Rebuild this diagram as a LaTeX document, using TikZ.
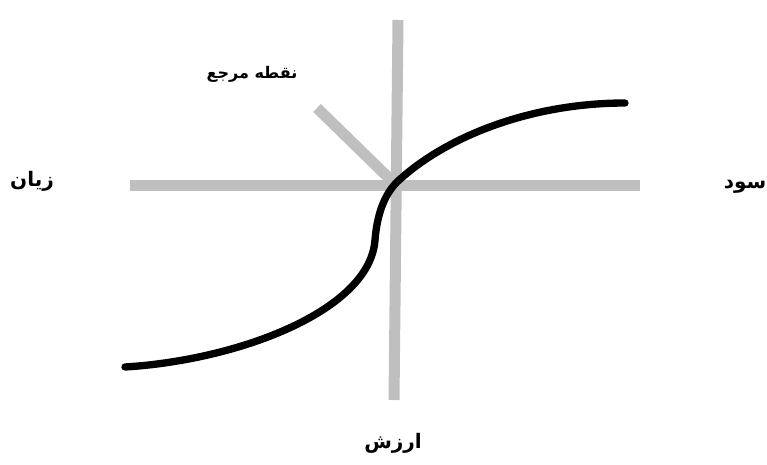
\documentclass[tikz,border=0pt]{standalone}
\usepackage{fontspec}
\newfontfamily\arabicfont[Script=Arabic]{DejaVu Sans}
\TeXXeTstate=1
\definecolor{axisgray}{HTML}{BFBFBF}
\tikzset{
  axisline/.style={draw=axisgray, line width=8.25pt},
  curveline/.style={draw=black, line width=5.5pt, line cap=round},
  biglabel/.style={font=\arabicfont\bfseries\fontsize{15}{17}\selectfont, inner sep=0pt},
  smalllabel/.style={font=\arabicfont\bfseries\fontsize{12}{14}\selectfont, inner sep=0pt}
}
\begin{document}
\begin{tikzpicture}[x=0.75pt,y=-0.75pt]
\useasboundingbox (0,0) rectangle (767,464);
% axes
\coordinate (vtop) at (398,20);
\coordinate (vbot) at (394,400);
\coordinate (hl) at (130,185);
\coordinate (hr) at (640,185);
\coordinate (dtop) at (317,108);
\coordinate (dbot) at (394,183);
\draw[axisline] (vtop) -- (vbot);
\draw[axisline] (hl) -- (hr);
\draw[axisline] (dtop) -- (dbot);
% value curve
\coordinate (cs) at (125,367);
\coordinate (cm) at (375,240);
\coordinate (co) at (397,182);
\coordinate (ce) at (625,103);
\draw[curveline] (cs) .. controls (240,360) and (370,310) .. (cm)
  .. controls (377,215) and (384,195) .. (co)
  .. controls (445,137) and (530,103) .. (ce);
% labels
\node[smalllabel] (ref) at (252,74) {\beginR نقطه مرجع\endR};
\node[biglabel] (loss) at (32,181) {\beginR زیان\endR};
\node[biglabel] (gain) at (745,187) {\beginR سود\endR};
\node[biglabel] (value) at (393,443) {\beginR ارزش\endR};
\end{tikzpicture}
\end{document}
